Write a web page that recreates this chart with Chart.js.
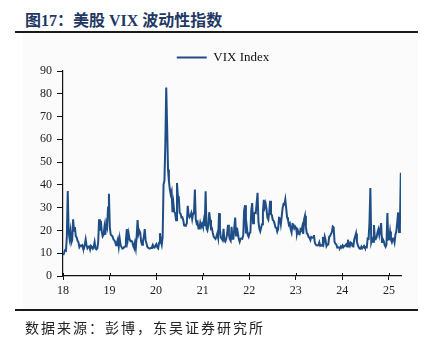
<!DOCTYPE html>
<html>
<head>
<meta charset="utf-8">
<script src="https://cdn.jsdelivr.net/npm/chart.js@4/dist/chart.umd.min.js"></script>
<style>
  html, body { margin: 0; padding: 0; background: #fff; }
  #wrap { position: relative; width: 435px; height: 345px; overflow: hidden; }
  #panel { position: absolute; left: 23px; top: 33px; width: 395px; height: 276px; background: #fbfbfb; }
  #chartBox { position: absolute; left: 0; top: 0; width: 435px; height: 345px; }
  .title { position: absolute; left: 25px; top: 7px; font: bold 16px "Liberation Serif", "Noto Sans CJK SC", serif; color: #1f3864; white-space: nowrap; }
  .rule { position: absolute; left: 15px; width: 403px; height: 2px; background: #1a1a1a; }
  .src { position: absolute; left: 25px; top: 317px; font: 14px "Noto Sans CJK SC", sans-serif; letter-spacing: 2px; color: #222; white-space: nowrap; }
</style>
</head>
<body>
<div id="wrap">
  <div id="panel"></div>
  <div class="title">图17：美股 VIX 波动性指数</div>
  <div class="rule" style="top:31px"></div>
  <div id="chartBox"><canvas id="vixChart"></canvas></div>
  <div class="rule" style="top:309px"></div>
  <div class="src">数据来源：彭博，东吴证券研究所</div>
</div>
<script>
// weekly VIX readings (spike weeks keep the intra-week high), one list per year
const years = [18, 19, 20, 21, 22, 23, 24, 25];
const vix18 = [9.2,10.2,11.3,11.1,17.3,37.3,19.5,16.5,19.6,14.6,15.8,24.9,19.9,21.5,17.4,16.9,15.4,14.8,12.7,13.4,13.2,13.5,12.2,12.0,13.8,16.1,13.4,12.2,12.9,13.0,11.6,13.2,12.6,12.0,12.9,14.9,12.1,11.7,12.1,14.8,24.9,19.9,24.2,19.5,17.4,18.1,21.5,18.1,23.2,21.6,30.1,36.1];
const vix19 = [21.4,18.2,17.8,17.4,16.1,15.7,14.9,13.5,14.6,16.1,12.9,16.5,13.7,12.8,12.0,12.1,12.7,12.9,16.0,20.6,15.9,18.7,16.3,15.3,15.4,15.1,13.3,12.4,14.5,12.2,17.6,24.6,18.5,19.9,19.0,15.0,13.7,15.3,17.2,20.6,15.6,14.3,12.7,12.3,12.1,12.1,12.3,12.6,13.6,12.6,12.5,13.4];
const vix20 = [14.0,12.6,12.1,14.6,18.8,15.5,13.7,17.1,40.1,41.9,57.8,82.7,65.5,46.8,41.7,38.2,35.9,37.2,28.0,31.9,28.2,27.5,24.5,40.8,35.1,34.7,27.7,27.3,25.7,25.8,24.5,22.2,22.1,22.5,23.0,30.8,26.9,25.8,26.4,27.6,25.0,27.4,27.6,38.0,24.9,23.1,23.7,20.8,20.8,23.3,21.6,22.8];
const vix21 = [21.6,24.3,21.9,37.2,20.9,20.0,22.1,28.0,24.7,20.7,21.0,18.9,17.3,16.7,16.3,17.3,18.6,16.7,27.6,20.2,16.8,16.4,15.7,20.7,15.6,15.1,16.2,18.5,22.5,18.2,16.2,15.5,21.6,16.4,16.4,21.0,25.7,17.8,21.2,18.8,16.3,15.0,16.3,16.5,16.3,17.9,28.6,31.1,18.7,21.6,18.0,17.2];
const vix22 = [18.8,19.2,28.9,32.0,23.2,27.4,27.8,27.6,32.0,36.5,23.9,20.8,19.6,21.2,22.7,28.2,33.4,30.2,31.8,29.4,25.7,24.8,27.8,33.0,27.2,26.7,24.6,24.2,23.0,21.3,21.2,19.5,20.6,25.6,25.5,22.8,26.3,29.9,31.6,31.4,33.6,29.7,25.8,24.6,22.5,23.1,20.5,19.1,22.8,22.6,20.9,21.7];
const vix23 = [21.1,18.4,19.9,18.5,18.3,20.5,20.0,21.7,18.5,24.8,26.5,21.7,18.7,18.4,17.1,16.8,15.8,17.2,17.0,16.8,18.0,14.6,13.8,13.5,13.4,13.6,14.8,13.3,13.6,13.3,17.1,14.8,17.3,15.7,13.1,13.8,13.8,17.2,17.5,17.5,19.3,21.7,21.3,14.9,14.2,13.8,12.5,12.6,12.4,12.3,13.0,12.5];
const vix24 = [13.4,12.7,13.3,13.3,13.9,12.9,15.9,13.8,13.1,14.7,14.4,13.1,13.0,16.0,17.3,18.7,15.0,13.5,12.6,12.0,11.9,12.9,12.2,12.7,13.2,12.4,12.5,12.5,16.5,16.4,23.4,38.6,14.8,16.3,15.0,22.4,16.6,16.2,17.0,19.2,20.5,18.0,20.3,23.2,14.9,16.1,15.2,13.5,12.8,13.8,27.6,16.0];
const vix25 = [16.1,19.5,16.0,14.9,16.4,16.5,14.8,18.2,19.6,23.4,27.9,19.3,21.7,45.3];
const yTicks = [0, 10, 20, 30, 40, 50, 60, 70, 80, 90];
const xTicks = [18, 19, 20, 21, 22, 23, 24, 25];

const series = [vix18, vix19, vix20, vix21, vix22, vix23, vix24, vix25];
const points = [];
series.forEach((vals, k) => {
  vals.forEach((v, i) => points.push({ x: years[k] + (i + 0.3) / 52, y: v }));
});

const lineColor = "#1f4e87";
const tickFont = { family: "Liberation Serif", size: 12 };

// y labels sit left of the padded area: widen the y scale box so they are not clipped
const yLabelRoom = {
  id: "yLabelRoom",
  afterLayout(chart) { chart.scales.y.left = 0; }
};

// short upward half of each x tick so the marks cross the axis
const xTickCross = {
  id: "xTickCross",
  afterDraw(chart) {
    const s = chart.scales.x, ctx = chart.ctx, yb = chart.chartArea.bottom;
    ctx.save();
    ctx.strokeStyle = "#111";
    ctx.lineWidth = 1;
    s.ticks.forEach(t => {
      const px = Math.round(s.getPixelForValue(t.value)) + 0.5;
      ctx.beginPath(); ctx.moveTo(px, yb - 3); ctx.lineTo(px, yb); ctx.stroke();
    });
    ctx.restore();
  }
};

new Chart(document.getElementById("vixChart"), {
  type: "line",
  data: {
    datasets: [{
      label: "VIX Index",
      data: points,
      borderColor: lineColor,
      backgroundColor: lineColor,
      borderWidth: 2,
      pointRadius: 0,
      tension: 0
    }]
  },
  plugins: [yLabelRoom, xTickCross],
  options: {
    responsive: true,
    maintainAspectRatio: false,
    animation: false,
    layout: { padding: { top: 45, left: 45, right: 34, bottom: 0 } },
    plugins: {
      tooltip: { enabled: false },
      legend: {
        position: "top",
        maxHeight: 26,
        labels: {
          boxWidth: 30, boxHeight: 2, padding: 6, color: "#111",
          font: { family: "Liberation Serif", size: 13 },
          generateLabels: chart => Chart.defaults.plugins.legend.labels.generateLabels(chart)
            .map(l => ({ ...l, lineWidth: 0 }))
        }
      }
    },
    scales: {
      x: {
        type: "linear",
        min: xTicks[0],
        max: 25.26,
        afterFit: s => { s.height = 69; },
        afterBuildTicks: s => { s.ticks = xTicks.map(v => ({ value: v })); },
        ticks: { stepSize: 1, includeBounds: false, color: "#222", font: tickFont, padding: 4, maxRotation: 0 },
        grid: { drawOnChartArea: false, drawTicks: true, tickLength: 4, color: "#111" },
        border: { color: "#111", width: 1.2 }
      },
      y: {
        min: yTicks[0],
        max: yTicks[yTicks.length - 1],
        afterFit: s => { s.width = 18; },
        afterBuildTicks: s => { s.ticks = yTicks.map(v => ({ value: v })); },
        ticks: { stepSize: 10, color: "#222", font: tickFont, padding: 5 },
        grid: { drawOnChartArea: false, drawTicks: true, tickLength: 6, color: "#111" },
        border: { color: "#111", width: 1.2 }
      }
    }
  }
});
</script>
</body>
</html>
